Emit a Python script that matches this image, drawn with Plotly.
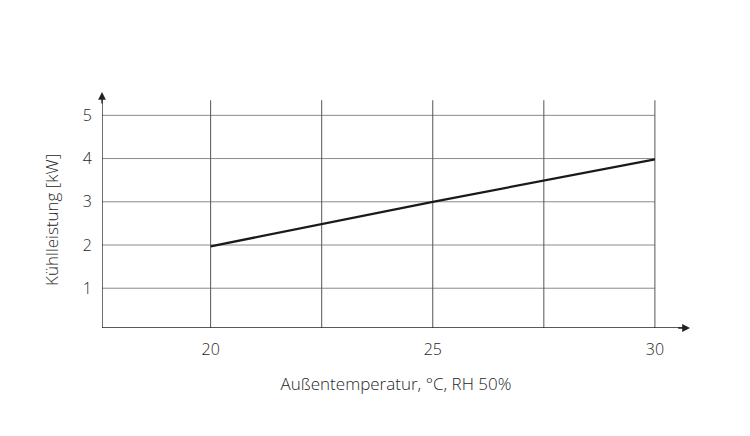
import plotly.graph_objects as go

# Data
temps = [20, 25, 30]
cooling_kw = [1.97, 3.0, 3.98]
x_tick_vals = [20, 25, 30]
x_tick_text = ["20", "25", "30"]
y_tick_vals = [1, 2, 3, 4, 5]
y_tick_text = ["1", "2", "3", "4", "5"]
x_grid = [20, 22.5, 25, 27.5, 30]
y_grid = [1, 2, 3, 4, 5]
x_title = "Außentemperatur, °C, RH 50%"
y_title = "Kühlleistung [kW]"

X0, X1 = 17.555, 30.79
Y0, Y1 = 0.08, 5.54
GRID_X_END = 30
GRID_Y_TOP = 5.35

FONT = "Open Sans"
OFF = 8  # page offset of the plot in the browser

fig = go.Figure()
fig.add_trace(go.Scatter(x=temps, y=cooling_kw, mode="lines",
                         line=dict(color="#1a1a1a", width=2.3),
                         hoverinfo="skip", showlegend=False))

shapes = []
for gy in y_grid:
    shapes.append(dict(type="line", xref="x", yref="y", x0=X0, x1=GRID_X_END, y0=gy, y1=gy,
                       line=dict(color="#8a8a8a", width=1), layer="below"))
for gx in x_grid:
    shapes.append(dict(type="line", xref="x", yref="y", x0=gx, x1=gx, y0=Y0, y1=GRID_Y_TOP,
                       line=dict(color="#555555", width=1), layer="below"))
# axis lines
shapes.append(dict(type="line", xref="x", yref="y", x0=X0, x1=X1 - 0.1, y0=Y0, y1=Y0,
                   line=dict(color="#222222", width=1.3)))
shapes.append(dict(type="line", xref="x", yref="y", x0=X0, x1=X0, y0=Y0, y1=Y1 - 0.1,
                   line=dict(color="#222222", width=1.3)))

annotations = [
    dict(x=X1, y=Y0, ax=X1 - 0.3, ay=Y0, xref="x", yref="y", axref="x", ayref="y",
         showarrow=True, arrowhead=2, arrowsize=1.2, arrowwidth=1.3, arrowcolor="#222222", text=""),
    dict(x=X0, y=Y1, ax=X0, ay=Y1 - 0.3, xref="x", yref="y", axref="x", ayref="y",
         showarrow=True, arrowhead=2, arrowsize=1.2, arrowwidth=1.3, arrowcolor="#222222", text=""),
    dict(x=0, y=0.458, xref="paper", yref="paper", xanchor="center", yanchor="middle",
         xshift=-50, textangle=-90, showarrow=False, text=y_title,
         font=dict(family=FONT, size=17, weight=300, color="#262626")),
]

fig.update_layout(
    width=750, height=436,
    margin=dict(l=102 - OFF, r=60 + OFF, t=92 - OFF, b=108 + OFF, autoexpand=False),
    paper_bgcolor="white", plot_bgcolor="white",
    font=dict(family=FONT, size=16, color="#262626", weight=300),
    shapes=shapes, annotations=annotations,
    xaxis=dict(range=[X0, X1], showgrid=False, zeroline=False, showline=False,
               tickvals=x_tick_vals, ticktext=x_tick_text, ticks="",
               ticklabelstandoff=10, automargin=False,
               title=dict(text=x_title, standoff=19,
                          font=dict(family=FONT, size=17, weight=300))),
    yaxis=dict(range=[Y0, Y1], showgrid=False, zeroline=False, showline=False,
               tickvals=y_tick_vals, ticktext=y_tick_text, ticks="",
               ticklabelstandoff=9, automargin=False),
)

fig.write_html("out.html")
